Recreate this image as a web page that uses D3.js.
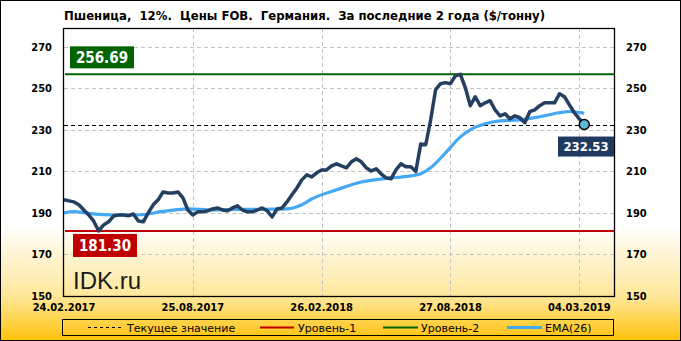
<!DOCTYPE html>
<html>
<head>
<meta charset="utf-8">
<script src="https://cdn.jsdelivr.net/npm/d3@7"></script>
<style>
  body { margin: 0; background: #fff; }
  svg { display: block; }
  .tick-label { font-family: "DejaVu Sans Condensed", "DejaVu Sans", sans-serif; font-weight: bold; font-size: 11px; fill: #000; }
  .legend-text { font-family: "DejaVu Sans", sans-serif; font-size: 11px; fill: #000; }
</style>
</head>
<body>
<script>
// weekly prices, 24.02.2017 .. 04.03.2019
const prices = [
  196.3, 195.8, 195.3, 193.9, 191.4, 189.0, 186.0, 181.3, 184.2, 185.7,
  188.5, 189.0, 189.0, 188.6, 189.5, 186.1, 185.7, 190.0, 193.9, 196.3,
  200.1, 199.6, 199.6, 200.1, 197.2, 191.4, 189.0, 190.5, 190.5, 191.0,
  191.9, 192.4, 191.4, 191.0, 192.4, 193.4, 191.4, 190.5, 190.5, 191.4,
  192.4, 191.0, 188.1, 191.9, 192.4, 195.3, 198.7, 202.0, 205.9, 208.3,
  207.3, 209.3, 210.7, 210.7, 212.6, 213.6, 212.6, 211.7, 214.6, 216.0,
  214.6, 211.7, 210.2, 211.2, 208.8, 206.9, 206.4, 210.7, 213.6, 212.2,
  212.2, 210.0, 223.2, 222.8, 234.8, 249.3, 252.2, 252.7, 252.2, 256.0,
  256.69, 250.2, 241.6, 245.9, 241.6, 243.0, 244.0, 239.6, 236.7, 237.7,
  235.3, 236.7, 235.8, 233.4, 238.7, 239.6, 241.6, 243.0, 243.0, 243.0,
  247.3, 245.9, 242.0, 238.2, 235.3, 232.53
];

// EMA(26) at these week indices
const emaIdx = [0, 2, 5, 10, 15, 20, 25, 30, 35, 40, 45, 48, 50, 55, 60, 65, 70, 72, 74, 77, 80, 82, 85, 88, 92, 96, 100, 102, 105];
const emaVal = [190.0, 190.6, 189.8, 189.0, 189.0, 190.7, 191.9, 191.4, 191.7, 191.7, 191.9, 193.9, 196.7, 201.1, 204.9, 206.6, 207.8, 208.8, 211.7, 218.9, 226.6, 230.0, 232.9, 234.3, 234.8, 236.3, 238.2, 238.8, 238.0];

const xTickIdx = [0, 26, 52, 78, 104];
const xTickLabels = ['24.02.2017', '25.08.2017', '26.02.2018', '27.08.2018', '04.03.2019'];
const yTicks = [150, 170, 190, 210, 230, 250, 270];

const LEVEL_1 = 181.30;
const LEVEL_2 = 256.69;
const CURRENT = prices[prices.length - 1];

const DIM = { width: 681, height: 341, left: 64, right: 614, top: 28, bottom: 296 };

const svg = d3.select('body').append('svg')
    .attr('width', DIM.width)
    .attr('height', DIM.height);

// background gradient
const grad = svg.append('defs').append('linearGradient')
    .attr('id', 'bg').attr('x1', 0).attr('y1', 0).attr('x2', 0).attr('y2', 1);
grad.append('stop').attr('offset', '0.66').attr('stop-color', '#ffffff');
grad.append('stop').attr('offset', '0.87').attr('stop-color', '#ffe79a');
grad.append('stop').attr('offset', '1').attr('stop-color', '#ffc20a');

svg.append('rect')
    .attr('x', 0.5).attr('y', 0.5)
    .attr('width', DIM.width - 1).attr('height', DIM.height - 1)
    .attr('fill', 'url(#bg)')
    .attr('stroke', '#000');

const x = d3.scaleLinear().domain([0, 111]).range([DIM.left, DIM.right]);
const y = d3.scaleLinear().domain([150, 279]).range([DIM.bottom, DIM.top]);

// title
svg.append('text')
    .attr('x', 64).attr('y', 20)
    .attr('textLength', 481)
    .attr('lengthAdjust', 'spacingAndGlyphs')
    .style('font-family', '"DejaVu Sans Condensed", "DejaVu Sans", sans-serif')
    .style('font-weight', 'bold')
    .style('font-size', '12px')
    .style('white-space', 'pre')
    .text('Пшеница,  12%.  Цены FOB.  Германия.  За последние 2 года ($/тонну)');

// grid
const grid = svg.append('g')
    .attr('stroke', '#c4c4c4')
    .attr('stroke-width', 1)
    .attr('stroke-dasharray', '4,3');

grid.selectAll('.hgrid').data(yTicks.filter(d => d > 150))
    .enter().append('line')
    .attr('x1', DIM.left).attr('x2', DIM.right)
    .attr('y1', d => Math.round(y(d)) + 0.5)
    .attr('y2', d => Math.round(y(d)) + 0.5);

grid.selectAll('.vgrid').data(xTickIdx.slice(1))
    .enter().append('line')
    .attr('y1', DIM.top).attr('y2', DIM.bottom)
    .attr('x1', d => Math.round(x(d)) + 0.5)
    .attr('x2', d => Math.round(x(d)) + 0.5);

// y labels both sides
svg.selectAll('.yl').data(yTicks)
    .enter().append('text')
    .attr('class', 'tick-label')
    .attr('x', 52).attr('y', d => y(d) + 4)
    .attr('text-anchor', 'end')
    .text(d => d);

svg.selectAll('.yr').data(yTicks)
    .enter().append('text')
    .attr('class', 'tick-label')
    .attr('x', 626).attr('y', d => y(d) + 4)
    .text(d => d);

// x labels
svg.selectAll('.xl').data(xTickIdx)
    .enter().append('text')
    .attr('class', 'tick-label')
    .attr('x', d => x(d))
    .attr('y', 311)
    .attr('text-anchor', 'middle')
    .text((d, i) => xTickLabels[i]);

// watermark
svg.append('text')
    .attr('x', 73).attr('y', 289)
    .style('font-family', '"Liberation Sans", Arial, sans-serif')
    .style('font-size', '24px')
    .attr('fill', '#1a1a1a')
    .text('IDK.ru');

// level lines
svg.append('line')
    .attr('x1', DIM.left + 1).attr('x2', DIM.right)
    .attr('y1', y(LEVEL_2)).attr('y2', y(LEVEL_2))
    .attr('stroke', '#006400').attr('stroke-width', 2);

svg.append('line')
    .attr('x1', DIM.left + 1).attr('x2', DIM.right)
    .attr('y1', y(LEVEL_1)).attr('y2', y(LEVEL_1))
    .attr('stroke', '#c00000').attr('stroke-width', 2);

svg.append('line')
    .attr('x1', DIM.left).attr('x2', DIM.right)
    .attr('y1', Math.round(y(CURRENT)) + 0.5).attr('y2', Math.round(y(CURRENT)) + 0.5)
    .attr('stroke', '#000').attr('stroke-width', 1)
    .attr('stroke-dasharray', '4,3');

// EMA line
svg.append('path')
    .datum(emaIdx.map((d, i) => [d, emaVal[i]]))
    .attr('fill', 'none')
    .attr('stroke', '#45a8f5')
    .attr('stroke-width', 3.2)
    .attr('d', d3.line().x(d => x(d[0])).y(d => y(d[1])).curve(d3.curveMonotoneX));

// price line
svg.append('path')
    .datum(prices)
    .attr('fill', 'none')
    .attr('stroke', '#243f60')
    .attr('stroke-width', 3.5)
    .attr('stroke-linejoin', 'round')
    .attr('d', d3.line().x((d, i) => x(i)).y(d => y(d)));

// last point marker
svg.append('circle')
    .attr('cx', x(prices.length - 1)).attr('cy', y(CURRENT))
    .attr('r', 5)
    .attr('fill', '#5bb8d8')
    .attr('stroke', '#000').attr('stroke-width', 1.5);

// plot frame
svg.append('rect')
    .attr('x', DIM.left - 0.5).attr('y', DIM.top + 0.5)
    .attr('width', DIM.right - DIM.left + 1).attr('height', DIM.bottom - DIM.top)
    .attr('fill', 'none')
    .attr('stroke', '#000').attr('stroke-width', 1.3);

// value badges
const badge = (bx, by, w, h, fill, size, txt) => {
    svg.append('rect')
        .attr('x', bx).attr('y', by).attr('width', w).attr('height', h)
        .attr('fill', fill);
    svg.append('text')
        .attr('x', bx + w / 2).attr('y', by + h / 2 + size * 0.36)
        .attr('text-anchor', 'middle')
        .style('font-family', '"DejaVu Sans Condensed", "DejaVu Sans", sans-serif')
        .style('font-weight', 'bold')
        .style('font-size', size + 'px')
        .attr('fill', '#fff')
        .text(txt);
};
badge(70, y(LEVEL_2) - 28, 64, 22, '#006400', 15, LEVEL_2.toFixed(2));
badge(73, y(LEVEL_1) + 3, 64, 23, '#c00000', 15, LEVEL_1.toFixed(2));
badge(558, y(CURRENT) + 12, 56, 20, '#1f3a5f', 13, CURRENT.toFixed(2));

// legend
const legend = svg.append('g');
legend.append('rect')
    .attr('x', 62.5).attr('y', 319.5).attr('width', 551).attr('height', 16)
    .attr('fill', 'none').attr('stroke', '#000');

const legendItems = [
    { label: 'Текущее значение', color: '#000', width: 1, dash: '3,3', x1: 88, x2: 122, tx: 127 },
    { label: 'Уровень-1', color: '#c00000', width: 2, dash: null, x1: 260, x2: 294, tx: 298 },
    { label: 'Уровень-2', color: '#006400', width: 2, dash: null, x1: 383, x2: 418, tx: 421 },
    { label: 'EMA(26)', color: '#45a8f5', width: 3, dash: null, x1: 507, x2: 542, tx: 545 }
];
legendItems.forEach(it => {
    legend.append('line')
        .attr('x1', it.x1).attr('x2', it.x2).attr('y1', 327.5).attr('y2', 327.5)
        .attr('stroke', it.color).attr('stroke-width', it.width)
        .attr('stroke-dasharray', it.dash);
    legend.append('text')
        .attr('class', 'legend-text')
        .attr('x', it.tx).attr('y', 331.5)
        .text(it.label);
});
</script>
</body>
</html>
